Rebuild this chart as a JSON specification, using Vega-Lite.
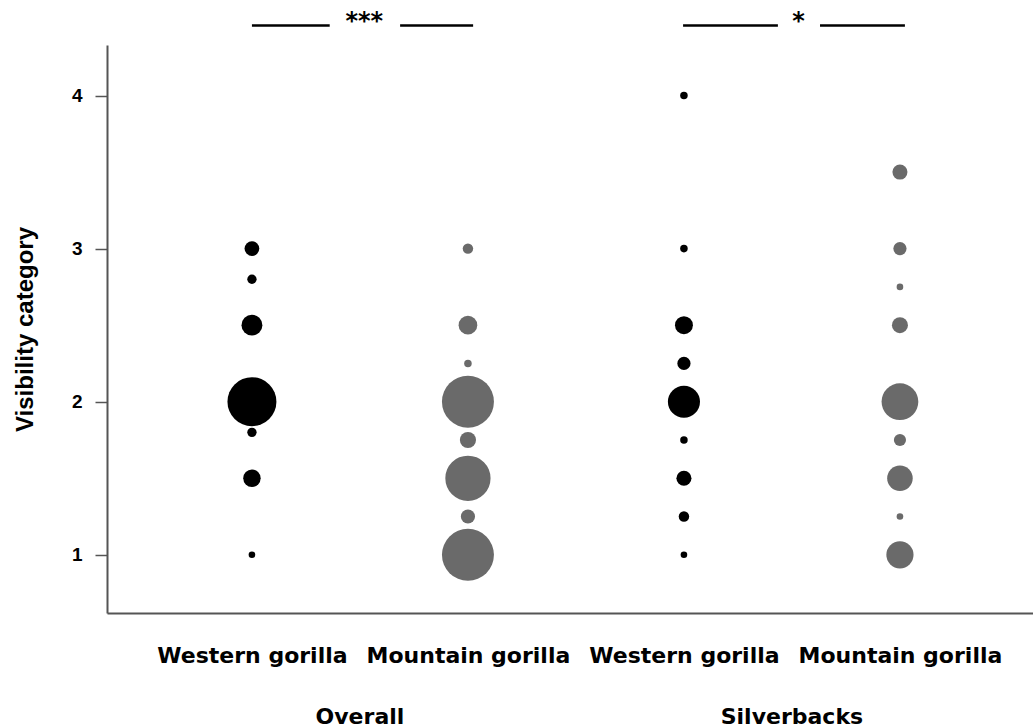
{
  "$schema": "https://vega.github.io/schema/vega-lite/v6.json",
  "autosize": "none",
  "width": 926,
  "height": 568,
  "padding": {"left": 107, "top": 45, "right": 0, "bottom": 115},
  "background": "white",
  "config": {"view": {"stroke": null}},
  "datasets": {
    "points": [
      {"pos": 1, "species": "Western gorilla", "group": "Overall", "vis": 3.0, "n": 5},
      {"pos": 1, "species": "Western gorilla", "group": "Overall", "vis": 2.8, "n": 2},
      {"pos": 1, "species": "Western gorilla", "group": "Overall", "vis": 2.5, "n": 10},
      {"pos": 1, "species": "Western gorilla", "group": "Overall", "vis": 1.8, "n": 2},
      {"pos": 1, "species": "Western gorilla", "group": "Overall", "vis": 2.0, "n": 55},
      {"pos": 1, "species": "Western gorilla", "group": "Overall", "vis": 1.5, "n": 7},
      {"pos": 1, "species": "Western gorilla", "group": "Overall", "vis": 1.0, "n": 1},
      {"pos": 2, "species": "Mountain gorilla", "group": "Overall", "vis": 3.0, "n": 2.5},
      {"pos": 2, "species": "Mountain gorilla", "group": "Overall", "vis": 2.5, "n": 8},
      {"pos": 2, "species": "Mountain gorilla", "group": "Overall", "vis": 2.25, "n": 1.3},
      {"pos": 2, "species": "Mountain gorilla", "group": "Overall", "vis": 2.0, "n": 62},
      {"pos": 2, "species": "Mountain gorilla", "group": "Overall", "vis": 1.75, "n": 6},
      {"pos": 2, "species": "Mountain gorilla", "group": "Overall", "vis": 1.5, "n": 47},
      {"pos": 2, "species": "Mountain gorilla", "group": "Overall", "vis": 1.25, "n": 4.6},
      {"pos": 2, "species": "Mountain gorilla", "group": "Overall", "vis": 1.0, "n": 62},
      {"pos": 3, "species": "Western gorilla", "group": "Silverbacks", "vis": 4.0, "n": 1.3},
      {"pos": 3, "species": "Western gorilla", "group": "Silverbacks", "vis": 3.0, "n": 1.3},
      {"pos": 3, "species": "Western gorilla", "group": "Silverbacks", "vis": 2.5, "n": 7.4},
      {"pos": 3, "species": "Western gorilla", "group": "Silverbacks", "vis": 2.25, "n": 4},
      {"pos": 3, "species": "Western gorilla", "group": "Silverbacks", "vis": 2.0, "n": 23.6},
      {"pos": 3, "species": "Western gorilla", "group": "Silverbacks", "vis": 1.75, "n": 1.3},
      {"pos": 3, "species": "Western gorilla", "group": "Silverbacks", "vis": 1.5, "n": 5.2},
      {"pos": 3, "species": "Western gorilla", "group": "Silverbacks", "vis": 1.25, "n": 2.5},
      {"pos": 3, "species": "Western gorilla", "group": "Silverbacks", "vis": 1.0, "n": 1},
      {"pos": 4, "species": "Mountain gorilla", "group": "Silverbacks", "vis": 3.5, "n": 5.2},
      {"pos": 4, "species": "Mountain gorilla", "group": "Silverbacks", "vis": 3.0, "n": 4},
      {"pos": 4, "species": "Mountain gorilla", "group": "Silverbacks", "vis": 2.75, "n": 1},
      {"pos": 4, "species": "Mountain gorilla", "group": "Silverbacks", "vis": 2.5, "n": 5.9},
      {"pos": 4, "species": "Mountain gorilla", "group": "Silverbacks", "vis": 2.0, "n": 31},
      {"pos": 4, "species": "Mountain gorilla", "group": "Silverbacks", "vis": 1.75, "n": 3.4},
      {"pos": 4, "species": "Mountain gorilla", "group": "Silverbacks", "vis": 1.5, "n": 15},
      {"pos": 4, "species": "Mountain gorilla", "group": "Silverbacks", "vis": 1.25, "n": 1},
      {"pos": 4, "species": "Mountain gorilla", "group": "Silverbacks", "vis": 1.0, "n": 17}
    ],
    "sigLines": [
      {"x": 1.0, "x2": 1.36, "y": 4.457},
      {"x": 1.686, "x2": 2.024, "y": 4.457},
      {"x": 2.996, "x2": 3.435, "y": 4.457},
      {"x": 3.63, "x2": 4.023, "y": 4.457}
    ],
    "sigText": [
      {"x": 1.52, "y": 4.48, "label": "***"},
      {"x": 3.53, "y": 4.48, "label": "*"}
    ],
    "groups": [
      {"x": 1.5, "y": -0.06, "label": "Overall"},
      {"x": 3.5, "y": -0.06, "label": "Silverbacks"}
    ]
  },
  "layer": [
    {
      "data": {"name": "points"},
      "mark": {"type": "circle", "opacity": 1, "clip": false},
      "encoding": {
        "x": {
          "field": "pos", "type": "quantitative",
          "scale": {"domain": [0.329, 4.616], "nice": false, "zero": false},
          "axis": {
            "values": [1, 2, 3, 4],
            "labelExpr": "datum.value % 2 == 1 ? 'Western gorilla' : 'Mountain gorilla'",
            "ticks": false, "grid": false, "title": null,
            "domain": true, "domainColor": "#555555", "domainWidth": 2,
            "labelFont": "DejaVu Sans", "labelFontWeight": "bold", "labelFontSize": 22,
            "labelColor": "black", "labelPadding": 32, "labelFlush": false, "labelOverlap": false,
            "labelLimit": 0
          }
        },
        "y": {
          "field": "vis", "type": "quantitative",
          "scale": {"domain": [0.62, 4.33], "nice": false, "zero": false},
          "axis": {
            "values": [1, 2, 3, 4], "format": "d",
            "grid": false, "title": "Visibility category",
            "domain": true, "domainColor": "#555555", "domainWidth": 2,
            "tickColor": "#555555", "tickWidth": 1.5, "tickSize": 12,
            "labelFont": "Liberation Sans", "labelFontWeight": "bold", "labelFontSize": 19,
            "labelColor": "black", "labelPadding": 13,
            "titleFont": "Liberation Sans", "titleFontWeight": "bold", "titleFontSize": 24,
            "titleColor": "black", "titlePadding": 34
          }
        },
        "size": {
          "field": "n", "type": "quantitative",
          "scale": {"domain": [0, 62], "range": [0, 2700]},
          "legend": null
        },
        "color": {
          "field": "species", "type": "nominal",
          "scale": {"domain": ["Western gorilla", "Mountain gorilla"], "range": ["#000000", "#6a6a6a"]},
          "legend": null
        }
      }
    },
    {
      "data": {"name": "sigLines"},
      "mark": {"type": "rule", "color": "black", "strokeWidth": 2.5, "clip": false},
      "encoding": {
        "x": {"field": "x", "type": "quantitative"},
        "x2": {"field": "x2"},
        "y": {"field": "y", "type": "quantitative"}
      }
    },
    {
      "data": {"name": "sigText"},
      "mark": {"type": "text", "font": "DejaVu Sans", "fontWeight": "bold", "fontSize": 24, "color": "black", "baseline": "middle", "clip": false},
      "encoding": {
        "x": {"field": "x", "type": "quantitative"},
        "y": {"field": "y", "type": "quantitative"},
        "text": {"field": "label"}
      }
    },
    {
      "data": {"name": "groups"},
      "mark": {"type": "text", "font": "DejaVu Sans", "fontWeight": "bold", "fontSize": 22, "color": "black", "baseline": "middle", "clip": false},
      "encoding": {
        "x": {"field": "x", "type": "quantitative"},
        "y": {"field": "y", "type": "quantitative"},
        "text": {"field": "label"}
      }
    }
  ]
}
